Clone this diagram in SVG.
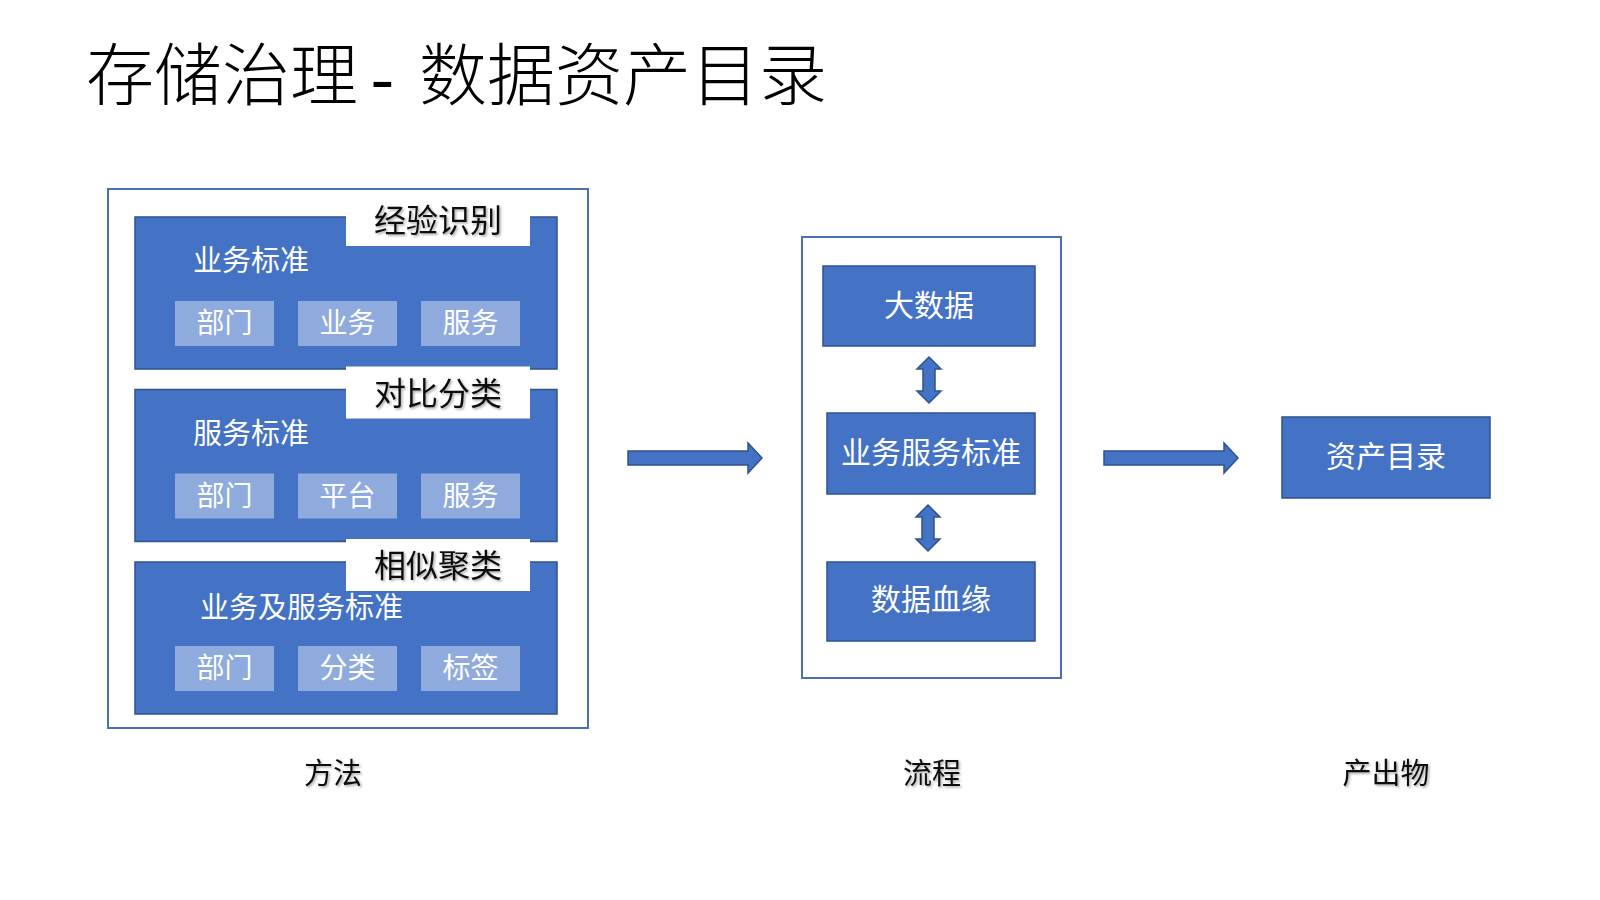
<svg xmlns="http://www.w3.org/2000/svg" width="1600" height="900" viewBox="0 0 1600 900">
<defs>
<filter id="sh" x="-10%" y="-10%" width="130%" height="140%">
<feDropShadow dx="1.5" dy="1.5" stdDeviation="1" flood-color="#000" flood-opacity="0.35"/>
</filter>
</defs>
<style>
text{font-family:"Noto Sans CJK SC","Liberation Sans",sans-serif}
.frame{fill:#fff;stroke:#4a6fb5;stroke-width:2}
.panel{fill:#4472c4;stroke:#2f528f;stroke-width:1.5}
.chip{fill:#8faadc}
.lbl{fill:#fff}
.w{fill:#fff;font-size:29px}
.wc{fill:#fff;font-size:28px;text-anchor:middle}
.k{fill:#111;font-size:32px;text-anchor:middle}
.cap{fill:#111;font-size:29px;text-anchor:middle}
.box{fill:#4472c4;stroke:#2f528f;stroke-width:1.5}
.arrow{fill:#4472c4;stroke:#2f528f;stroke-width:1.5;stroke-linejoin:miter}
</style>
<rect width="1600" height="900" fill="#fff"/>
<text y="100" font-size="68" fill="#000" style="font-family:'Noto Sans CJK SC',serif;font-weight:300"><tspan x="86">存储治理</tspan><tspan x="371" style="font-family:'Liberation Serif',serif">-</tspan><tspan x="419">数据资产目录</tspan></text>

<g id="method">
<rect class="frame" x="108" y="189" width="480" height="539"/>
<g id="panel1">
<rect class="panel" x="135" y="217" width="422" height="152"/>
<rect class="lbl" x="346" y="194" width="184" height="52"/>
<text class="k" x="438" y="232" filter="url(#sh)">经验识别</text>
<text class="w" x="193" y="271">业务标准</text>
<rect class="chip" x="175" y="301" width="99" height="45"/>
<rect class="chip" x="298" y="301" width="99" height="45"/>
<rect class="chip" x="421" y="301" width="99" height="45"/>
<text class="wc" x="224.5" y="333">部门</text>
<text class="wc" x="347.5" y="333">业务</text>
<text class="wc" x="470.5" y="333">服务</text>
</g>
<g id="panel2">
<rect class="panel" x="135" y="389.5" width="422" height="152"/>
<rect class="lbl" x="346" y="366.5" width="184" height="52"/>
<text class="k" x="438" y="404.5" filter="url(#sh)">对比分类</text>
<text class="w" x="193" y="443.5">服务标准</text>
<rect class="chip" x="175" y="473.5" width="99" height="45"/>
<rect class="chip" x="298" y="473.5" width="99" height="45"/>
<rect class="chip" x="421" y="473.5" width="99" height="45"/>
<text class="wc" x="224.5" y="505.5">部门</text>
<text class="wc" x="347.5" y="505.5">平台</text>
<text class="wc" x="470.5" y="505.5">服务</text>
</g>
<g id="panel3">
<rect class="panel" x="135" y="562" width="422" height="152"/>
<rect class="lbl" x="346" y="539" width="184" height="52"/>
<text class="k" x="438" y="577" filter="url(#sh)">相似聚类</text>
<text class="w" x="200" y="618">业务及服务标准</text>
<rect class="chip" x="175" y="646" width="99" height="45"/>
<rect class="chip" x="298" y="646" width="99" height="45"/>
<rect class="chip" x="421" y="646" width="99" height="45"/>
<text class="wc" x="224.5" y="678">部门</text>
<text class="wc" x="347.5" y="678">分类</text>
<text class="wc" x="470.5" y="678">标签</text>
</g>
</g>

<g id="process">
<rect class="frame" x="802" y="237" width="259" height="441"/>
<g id="bigdata">
<rect class="box" x="823" y="266" width="212" height="80"/>
<text class="wc" x="929" y="316" style="font-size:30px">大数据</text>
</g>
<g id="standard">
<rect class="box" x="827" y="413" width="208" height="81"/>
<text class="wc" x="931" y="463" style="font-size:30px">业务服务标准</text>
</g>
<g id="lineage">
<rect class="box" x="827" y="562" width="208" height="79"/>
<text class="wc" x="931" y="610" style="font-size:30px">数据血缘</text>
</g>
</g>

<g id="catalog">
<rect class="box" x="1282" y="417" width="208" height="81"/>
<text class="wc" x="1386" y="467" style="font-size:30px">资产目录</text>
</g>

<g id="captions">
<text class="cap" x="333" y="784" filter="url(#sh)">方法</text>
<text class="cap" x="932" y="784" filter="url(#sh)">流程</text>
<text class="cap" x="1386" y="784" filter="url(#sh)">产出物</text>
</g>

<g id="connectors">
<path class="arrow" d="M628,451 H748 V443 L762,458 L748,473 V465 H628 Z"/>
<path class="arrow" d="M1104,451 H1224 V443 L1238,458 L1224,473 V465 H1104 Z"/>
<path class="arrow" d="M929,357 L941,369 H935 V391 H941 L929,403 L917,391 H923 V369 H917 Z"/>
<path class="arrow" d="M928,505 L940,517 H934 V539 H940 L928,551 L916,539 H922 V517 H916 Z"/>
</g>
</svg>
